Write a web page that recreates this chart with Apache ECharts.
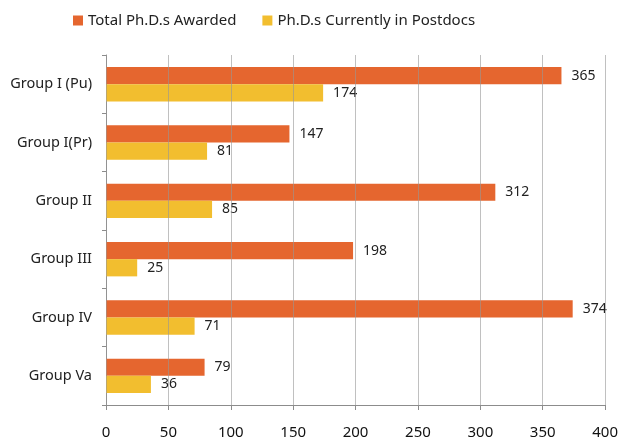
<!DOCTYPE html>
<html>
<head>
<meta charset="utf-8">
<script src="https://cdn.jsdelivr.net/npm/echarts@6/dist/echarts.min.js"></script>
<style>
html, body { margin: 0; padding: 0; background: #fff; }
#chart { width: 621px; height: 441px; }
</style>
</head>
<body>
<div id="chart"></div>
<script>
// categories top to bottom
var groups = ['Group I (Pu)', 'Group I(Pr)', 'Group II', 'Group III', 'Group IV', 'Group Va'];
var totalPhds = [365, 147, 312, 198, 374, 79];
var postdocs = [174, 81, 85, 25, 71, 36];
var seriesNames = ['Total Ph.D.s Awarded', 'Ph.D.s Currently in Postdocs'];

var font = 'Noto Sans';
var myChart = echarts.init(document.getElementById('chart'));

var option = {
    animation: false,
    textStyle: { fontFamily: font },
    color: ['#E5662F', '#F2BE2F'],
    legend: {
        data: seriesNames,
        top: 8,
        left: 68,
        itemWidth: 10,
        itemHeight: 10,
        itemGap: 26,
        icon: 'rect',
        textStyle: { fontFamily: font, fontSize: 15, color: '#222' }
    },
    grid: {
        left: 106,
        right: 15,
        top: 55,
        bottom: 36
    },
    xAxis: {
        type: 'value',
        min: 0,
        max: 400,
        interval: 50,
        z: 3,
        axisLine: { show: true, lineStyle: { color: '#8c8c8c' } },
        axisTick: { show: true, length: 5, lineStyle: { color: '#8c8c8c' } },
        axisLabel: { margin: 20, fontSize: 15, color: '#111', fontFamily: font },
        splitLine: { show: true, lineStyle: { color: 'rgba(150,150,150,0.6)' } }
    },
    yAxis: {
        type: 'category',
        data: groups,
        inverse: true,
        axisLine: { show: true, lineStyle: { color: '#8c8c8c' } },
        axisTick: { show: true, length: 4, lineStyle: { color: '#8c8c8c' } },
        axisLabel: { margin: 14, fontSize: 14.5, color: '#222', fontFamily: font }
    },
    series: [
        {
            name: seriesNames[0],
            type: 'bar',
            data: totalPhds,
            barGap: 0,
            barCategoryGap: '41%',
            label: { show: true, position: 'right', distance: 10, fontSize: 14, color: '#222', fontFamily: font }
        },
        {
            name: seriesNames[1],
            type: 'bar',
            data: postdocs,
            barGap: 0,
            barCategoryGap: '41%',
            label: { show: true, position: 'right', distance: 10, fontSize: 14, color: '#222', fontFamily: font }
        }
    ]
};
myChart.setOption(option);
</script>
</body>
</html>
